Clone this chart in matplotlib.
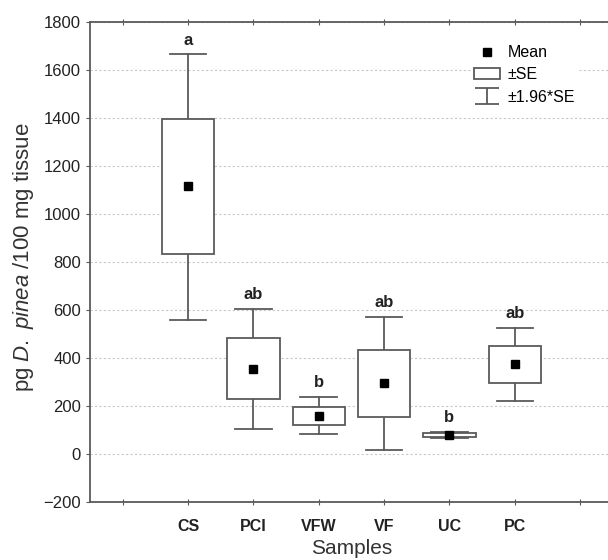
import numpy as np
import matplotlib
matplotlib.use("Agg")
import matplotlib.pyplot as plt
from matplotlib.patches import Rectangle
from matplotlib.lines import Line2D
from matplotlib.path import Path

plt.rcParams['font.family'] = ['Liberation Sans', 'DejaVu Sans']
plt.rcParams['mathtext.fontset'] = 'custom'
plt.rcParams['mathtext.rm'] = 'Liberation Sans'
plt.rcParams['mathtext.it'] = 'Liberation Sans:italic'

# values
samples = ['CS', 'PCI', 'VFW', 'VF', 'UC', 'PC']
means = [1115, 354, 160, 295, 79, 374]
se_low = [833, 228, 120, 155, 72, 297]
se_high = [1394, 482, 197, 433, 86, 450]
ci_low = [558, 103, 82, 17, 68, 221]
ci_high = [1665, 603, 236, 570, 90, 526]
letters = ['a', 'ab', 'b', 'ab', 'b', 'ab']

line_col = '#5a5a5a'
box_w = 0.8
cap_w = 0.56

fig = plt.figure(figsize=(6.08, 5.6), dpi=100)
ax = fig.add_axes([0.148, 0.1036, 0.86, 0.857])

pos = np.arange(1, len(samples) + 1)
for i, x in enumerate(pos):
    # whiskers (+-1.96*SE)
    ax.plot([x, x], [se_high[i], ci_high[i]], color=line_col, lw=1.3, zorder=3)
    ax.plot([x, x], [ci_low[i], se_low[i]], color=line_col, lw=1.3, zorder=3)
    ax.plot([x - cap_w / 2, x + cap_w / 2], [ci_high[i]] * 2, color=line_col, lw=1.3, zorder=3)
    ax.plot([x - cap_w / 2, x + cap_w / 2], [ci_low[i]] * 2, color=line_col, lw=1.3, zorder=3)
    # box (+-SE)
    ax.add_patch(Rectangle((x - box_w / 2, se_low[i]), box_w, se_high[i] - se_low[i],
                           facecolor='white', edgecolor=line_col, lw=1.3, zorder=4))
    ax.plot(x, means[i], 's', color='black', ms=6, zorder=5)
    ax.annotate(letters[i], (x, ci_high[i]), xytext=(0, 5), textcoords='offset points',
                ha='center', va='bottom', fontsize=12, fontweight='bold', color='#222222')

ax.set_xlim(-0.5, 7.5)
ax.set_ylim(-200, 1800)
ax.set_xticks(np.arange(0, 8))
ax.set_xticklabels([''] + samples + [''], fontweight='bold', fontsize=11.5, color='#222222')
ax.set_yticks(np.arange(-200, 1801, 200))
ax.set_yticklabels(['\u2212200'] + [str(v) for v in range(0, 1801, 200)], fontsize=12,
                   color='#222222')
ax.yaxis.grid(True, color='#c8c8c8', ls=(0, (2, 2)), lw=0.8)
ax.set_axisbelow(True)
ax.tick_params(axis='x', direction='inout', length=4, top=True, color=line_col, pad=10)
ax.tick_params(axis='y', direction='out', length=3, color=line_col)
for s in ax.spines.values():
    s.set_color(line_col)
    s.set_linewidth(1.3)

ax.set_xlabel('Samples', fontsize=15, color='#333333')
ax.set_ylabel('pg $\\it{D.\\ pinea}$ /100 mg tissue', fontsize=16, color='#333333')
ax.yaxis.set_label_coords(-0.104, 0.51)

# whisker symbol for the legend: cap, stem, cap
whisk = Path([(-1, 0.65), (1, 0.65), (0, 0.65), (0, -0.65), (-1, -0.65), (1, -0.65)],
             [Path.MOVETO, Path.LINETO, Path.MOVETO, Path.LINETO, Path.MOVETO, Path.LINETO])
handles = [
    Line2D([], [], marker='s', color='black', ls='none', ms=6),
    Rectangle((0, 0), 1, 1, facecolor='white', edgecolor=line_col, lw=1.3),
    Line2D([], [], marker=whisk, color=line_col, mfc='none', mew=1.3, ls='none', ms=17),
]
fig.legend(handles, ['Mean', '\u00b1SE', '\u00b11.96*SE'], loc='upper left',
           bbox_to_anchor=(0.775, 0.925), frameon=True, edgecolor='none',
           facecolor='white', framealpha=1, fontsize=11.5, handlelength=1.6,
           labelspacing=0.45, handletextpad=0.5, borderpad=0.2, borderaxespad=0)

fig.savefig('out.png', dpi=100)
